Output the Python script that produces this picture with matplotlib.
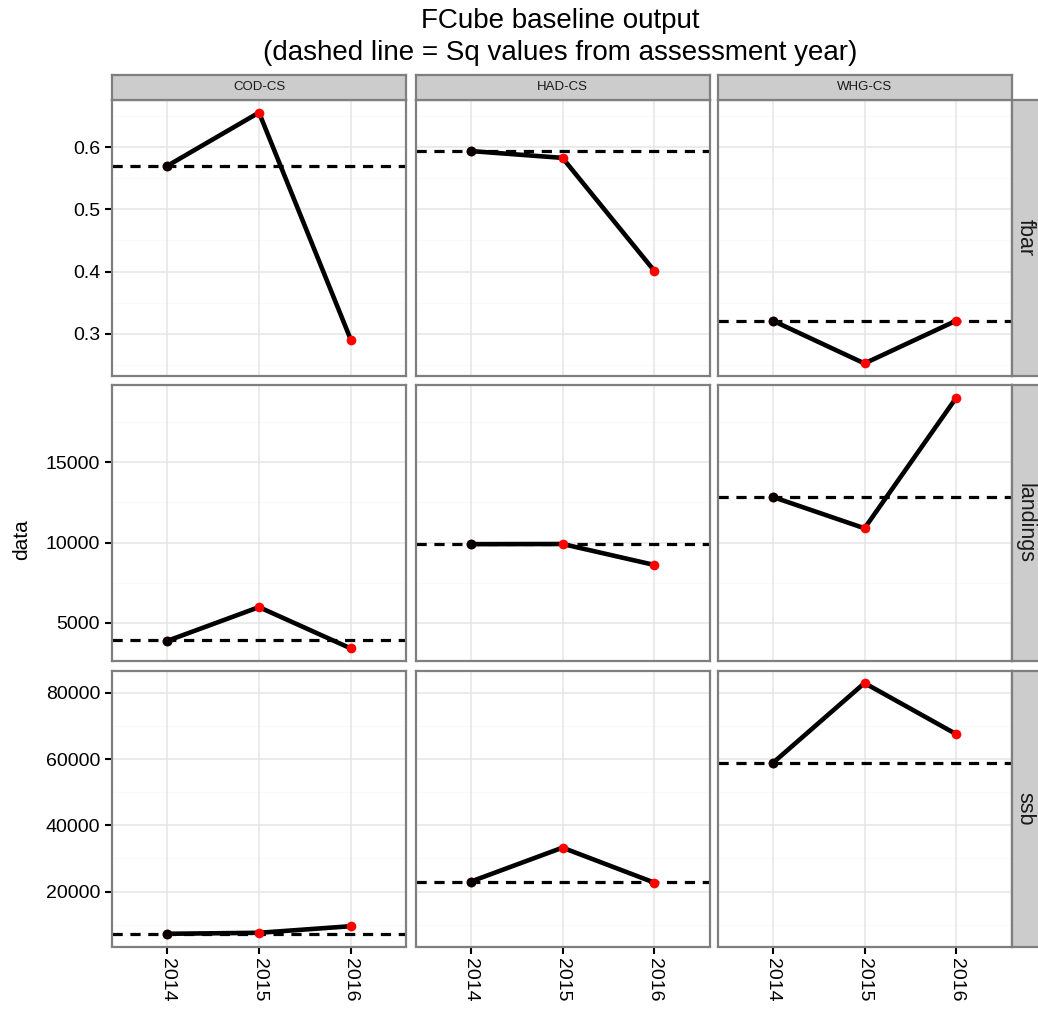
import matplotlib
matplotlib.use("Agg")
import matplotlib.pyplot as plt
import numpy as np

plt.rcParams['font.family'] = ['Liberation Sans', 'DejaVu Sans']

years = [2014, 2015, 2016]
stocks = ['COD-CS', 'HAD-CS', 'WHG-CS']
variables = ['fbar', 'landings', 'ssb']

fbar_cod = [0.570, 0.656, 0.290]
fbar_had = [0.594, 0.583, 0.401]
fbar_whg = [0.321, 0.252, 0.321]
landings_cod = [3860, 5970, 3390]
landings_had = [9900, 9910, 8600]
landings_whg = [12850, 10890, 19050]
ssb_cod = [7250, 7550, 9540]
ssb_had = [23000, 33270, 22700]
ssb_whg = [58800, 83000, 67540]

sq_fbar = [0.570, 0.594, 0.321]
sq_landings = [3900, 9900, 12850]
sq_ssb = [7200, 23000, 58800]

yticks_fbar = [0.3, 0.4, 0.5, 0.6]
yticks_landings = [5000, 10000, 15000]
yticks_ssb = [20000, 40000, 60000, 80000]

data = {
    'fbar': [fbar_cod, fbar_had, fbar_whg],
    'landings': [landings_cod, landings_had, landings_whg],
    'ssb': [ssb_cod, ssb_had, ssb_whg],
}
sq = {'fbar': sq_fbar, 'landings': sq_landings, 'ssb': sq_ssb}
yticks = {'fbar': yticks_fbar, 'landings': yticks_landings, 'ssb': yticks_ssb}
ylabels_fmt = {'fbar': lambda v: f"{v:.1f}", 'landings': lambda v: f"{int(v)}",
               'ssb': lambda v: f"{int(v)}"}

W, H = 1038, 1015
fig = plt.figure(figsize=(W / 100, H / 100), dpi=100)


def px_axes(left, top, w, h, **kw):
    return fig.add_axes([left / W, 1 - (top + h) / H, w / W, h / H], **kw)


col_left = [112, 415.5, 717.5]
col_w = 294
row_top = [100, 385, 670.5]
row_h = 276
border = '#7F7F7F'
grid_major = '#E5E5E5'
grid_minor = '#FAFAFA'

for r, var in enumerate(variables):
    allv = [v for s in data[var] for v in s] + list(sq[var])
    lo, hi = min(allv), max(allv)
    pad = (hi - lo) * 0.05
    ylim = (lo - pad, hi + pad)
    maj = yticks[var]
    step = maj[1] - maj[0]
    minors = [m - step / 2 for m in maj] + [maj[-1] + step / 2]
    for c, stock in enumerate(stocks):
        ax = px_axes(col_left[c], row_top[r], col_w, row_h)
        ax.set_xlim(2013.4, 2016.6)
        ax.set_ylim(*ylim)
        ax.set_facecolor('white')
        for m in minors:
            ax.axhline(m, color=grid_minor, lw=1.0, zorder=0)
        for m in maj:
            ax.axhline(m, color=grid_major, lw=1.1, zorder=0)
        for yv in years:
            ax.axvline(yv, color=grid_major, lw=1.1, zorder=0)
        vals = data[var][c]
        ax.axhline(sq[var][c], color='black', lw=2.3, ls=(0, (3.2, 2.4)), zorder=2)
        ax.plot(years, vals, color='black', lw=3.3, zorder=3, solid_capstyle='round')
        ax.plot(years, vals, 'o', color='red', ms=7, mec='none', zorder=4)
        ax.plot(years[:1], vals[:1], 'o', color='black', ms=7, mec='none', zorder=5)
        for s in ax.spines.values():
            s.set_color(border)
            s.set_linewidth(1.6)
        ax.set_xticks(years)
        ax.set_yticks(maj)
        ax.tick_params(direction='out', length=5, width=1.5, color='black',
                       labelsize=14, labelcolor='black')
        if c == 0:
            ax.set_yticklabels([ylabels_fmt[var](v) for v in maj])
        else:
            ax.tick_params(axis='y', length=0, labelleft=False)
        if r == 2:
            ax.set_xticklabels([str(y) for y in years], rotation=270, va='top')
        else:
            ax.tick_params(axis='x', length=0, labelbottom=False)

    # right strip
    sax = px_axes(1011.5, row_top[r], 40, row_h)
    sax.set_facecolor('#CCCCCC')
    sax.set_xticks([]); sax.set_yticks([])
    for s in sax.spines.values():
        s.set_color(border); s.set_linewidth(1.6)
    sax.text(13.5 / 40, 0.5, var, rotation=270, ha='center', va='center',
             fontsize=15.5, color='#1A1A1A', transform=sax.transAxes)

# top strips
for c, stock in enumerate(stocks):
    sax = px_axes(col_left[c], 75, col_w, 25)
    sax.set_facecolor('#CCCCCC')
    sax.set_xticks([]); sax.set_yticks([])
    for s in sax.spines.values():
        s.set_color(border); s.set_linewidth(1.6)
    sax.text(0.5, 0.5, stock, ha='center', va='center', fontsize=9.5,
             color='#1A1A1A', transform=sax.transAxes)

fig.text(560 / W, 1 - 21 / H, "FCube baseline output", ha='center', va='center',
         fontsize=20)
fig.text(560 / W, 1 - 53 / H, "(dashed line = Sq values from assessment year)",
         ha='center', va='center', fontsize=20)
fig.text(22 / W, 1 - 540 / H, "data", rotation=90, ha='center', va='center',
         fontsize=15)

fig.savefig("out.png", dpi=100, facecolor='white')
